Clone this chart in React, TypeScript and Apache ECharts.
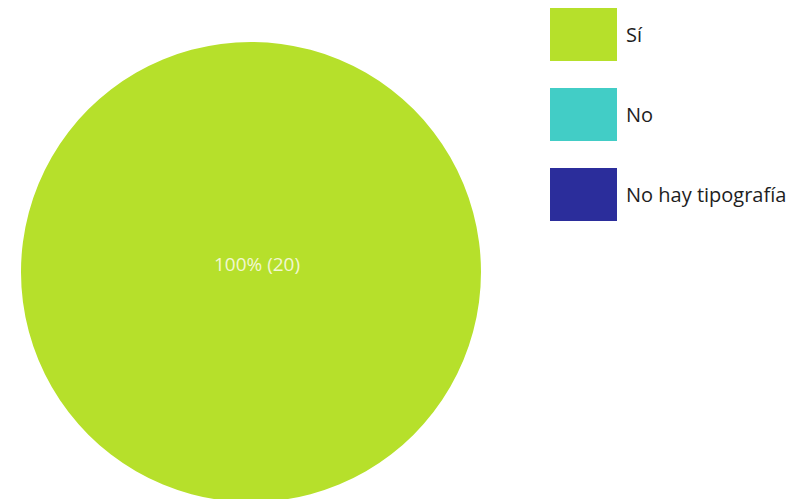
import React, { useEffect, useRef } from "react";
import * as echarts from "echarts";

const categories = ["Sí", "No", "No hay tipografía"];
const values = [20, 0, 0];
const colors = ["#b6e02b", "#42cdc6", "#2b2d9b"];

export default function App() {
  const ref = useRef<HTMLDivElement>(null);
  useEffect(() => {
    if (!ref.current) return;
    const chart = echarts.init(ref.current, null, { renderer: "svg" });
    chart.setOption({
      animation: false,
      backgroundColor: "#ffffff",
      color: colors,
      legend: {
        orient: "vertical",
        left: 545,
        top: 3,
        itemWidth: 67,
        itemHeight: 53,
        itemGap: 27,
        icon: "rect",
        selectedMode: false,
        data: categories,
        textStyle: {
          fontFamily: "Open Sans",
          fontSize: 20,
          color: "#1e1e1e",
          padding: [0, 0, 0, 4],
        },
      },
      series: [
        {
          type: "pie",
          center: [251, 272],
          radius: 230,
          startAngle: 90,
          silent: true,
          stillShowZeroSum: false,
          labelLine: { show: false },
          label: {
            show: true,
            position: "center",
            offset: [6, -8],
            fontFamily: "Open Sans",
            fontSize: 19,
            fontWeight: 500,
            color: "#f2f7d2",
            formatter: (p: any) => (p.value > 0 ? `${p.percent}% (${p.value})` : ""),
          },
          emphasis: { disabled: true },
          data: categories.map((name, i) => ({ name, value: values[i] })),
        },
      ],
    });
    return () => chart.dispose();
  }, []);
  return (
    <div
      ref={ref}
      style={{ position: "fixed", left: 0, top: 0, width: 808, height: 499 }}
    />
  );
}
